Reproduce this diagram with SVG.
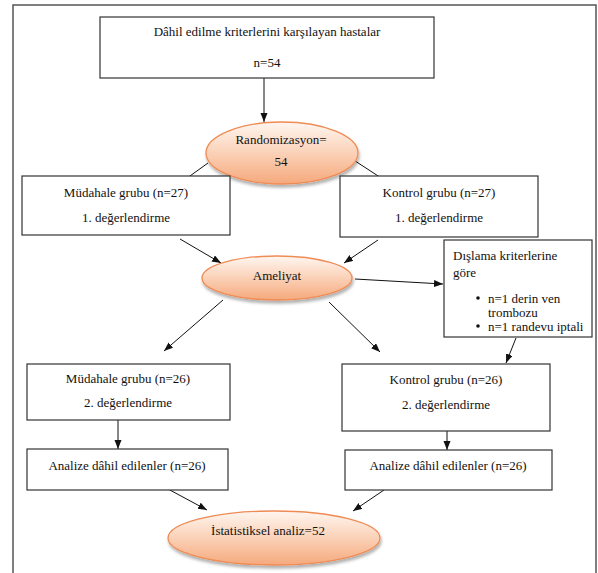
<svg xmlns="http://www.w3.org/2000/svg" width="598" height="573" viewBox="0 0 598 573">
<style>
.box{fill:#fff;stroke:#333;stroke-width:1.2}
.ell{fill:url(#og);stroke:#ef8b55;stroke-width:1.3;filter:url(#sh)}
.t{font-family:"Liberation Serif","Times New Roman",serif;font-size:13px;fill:#111}
.m{text-anchor:middle}
.c{stroke:#111;stroke-width:1;fill:none;marker-end:url(#ah)}
</style>
<defs>
<linearGradient id="og" x1="0" y1="0" x2="0" y2="1">
<stop offset="0" stop-color="#fff6f0"/>
<stop offset="0.45" stop-color="#fbd5bd"/>
<stop offset="1" stop-color="#f5a97c"/>
</linearGradient>
<filter id="sh" x="-10%" y="-20%" width="120%" height="150%">
<feDropShadow dx="1" dy="3" stdDeviation="1.5" flood-color="#000" flood-opacity="0.3"/>
</filter>
<marker id="ah" markerUnits="userSpaceOnUse" markerWidth="10" markerHeight="8" refX="9" refY="3.5" orient="auto">
<path d="M0,0 L9,3.5 L0,7 z" fill="#111"/>
</marker>
</defs>
<rect x="13" y="5" width="583" height="590" fill="#fff" stroke="#555" stroke-width="1.5"/>
<g id="connectors">
<line class="c" x1="264" y1="78" x2="264" y2="122"/>
<line class="c" x1="208" y1="163" x2="176" y2="186"/>
<line class="c" x1="349" y1="157" x2="392" y2="185"/>
<line class="c" x1="180" y1="239" x2="221" y2="263"/>
<line class="c" x1="378" y1="240" x2="344" y2="263"/>
<line class="c" x1="355" y1="279" x2="443" y2="284"/>
<line class="c" x1="223" y1="300" x2="164" y2="351"/>
<line class="c" x1="329" y1="302" x2="380" y2="352"/>
<line class="c" x1="516" y1="338" x2="506" y2="363"/>
<line class="c" x1="118" y1="420" x2="118" y2="449"/>
<line class="c" x1="447" y1="431" x2="447" y2="450"/>
<line class="c" x1="168" y1="489" x2="207" y2="510"/>
<line class="c" x1="384" y1="490" x2="353" y2="511"/>
</g>
<g id="n1"><rect class="box" x="100" y="17" width="334" height="61"/>
<text class="t m" x="267" y="36">Dâhil edilme kriterlerini karşılayan hastalar</text>
<text class="t m" x="267" y="67">n=54</text></g>
<g id="n2"><ellipse class="ell" cx="282" cy="153" rx="76" ry="31"/>
<text class="t m" x="281" y="143.5">Randomizasyon=</text>
<text class="t m" x="281" y="165.5">54</text></g>
<g id="n3"><rect class="box" x="22" y="176" width="208" height="59"/>
<text class="t m" x="126" y="196.5">Müdahale grubu (n=27)</text>
<text class="t m" x="126" y="221.5">1. değerlendirme</text></g>
<g id="n4"><rect class="box" x="340" y="176" width="198" height="61"/>
<text class="t m" x="439" y="196.5">Kontrol grubu (n=27)</text>
<text class="t m" x="439" y="221.5">1. değerlendirme</text></g>
<g id="n5"><ellipse class="ell" cx="277" cy="278" rx="75" ry="22"/>
<text class="t m" x="277" y="279.5">Ameliyat</text></g>
<g id="n6"><rect class="box" x="444" y="240" width="148" height="97"/>
<text class="t" x="453" y="259.5">Dışlama kriterlerine</text>
<text class="t" x="453" y="276.5">göre</text>
<circle cx="478" cy="298" r="1.8" fill="#111"/>
<text class="t" x="488" y="302.5">n=1 derin ven</text>
<text class="t" x="488" y="316.5">trombozu</text>
<circle cx="478" cy="326" r="1.8" fill="#111"/>
<text class="t" x="488" y="330.5">n=1 randevu iptali</text></g>
<g id="n7"><rect class="box" x="27" y="364" width="203" height="56"/>
<text class="t m" x="128" y="382.5">Müdahale grubu (n=26)</text>
<text class="t m" x="128" y="406.5">2. değerlendirme</text></g>
<g id="n8"><rect class="box" x="342" y="364" width="208" height="67"/>
<text class="t m" x="446" y="383.5">Kontrol grubu (n=26)</text>
<text class="t m" x="446" y="409">2. değerlendirme</text></g>
<g id="n9"><rect class="box" x="27" y="449" width="201" height="41"/>
<text class="t m" x="127" y="470">Analize dâhil edilenler (n=26)</text></g>
<g id="n10"><rect class="box" x="345" y="450" width="207" height="40"/>
<text class="t m" x="448" y="470">Analize dâhil edilenler (n=26)</text></g>
<g id="n11"><ellipse class="ell" cx="274" cy="538" rx="106" ry="27"/>
<text class="t m" x="268" y="534.5">İstatistiksel analiz=52</text></g>
</svg>
